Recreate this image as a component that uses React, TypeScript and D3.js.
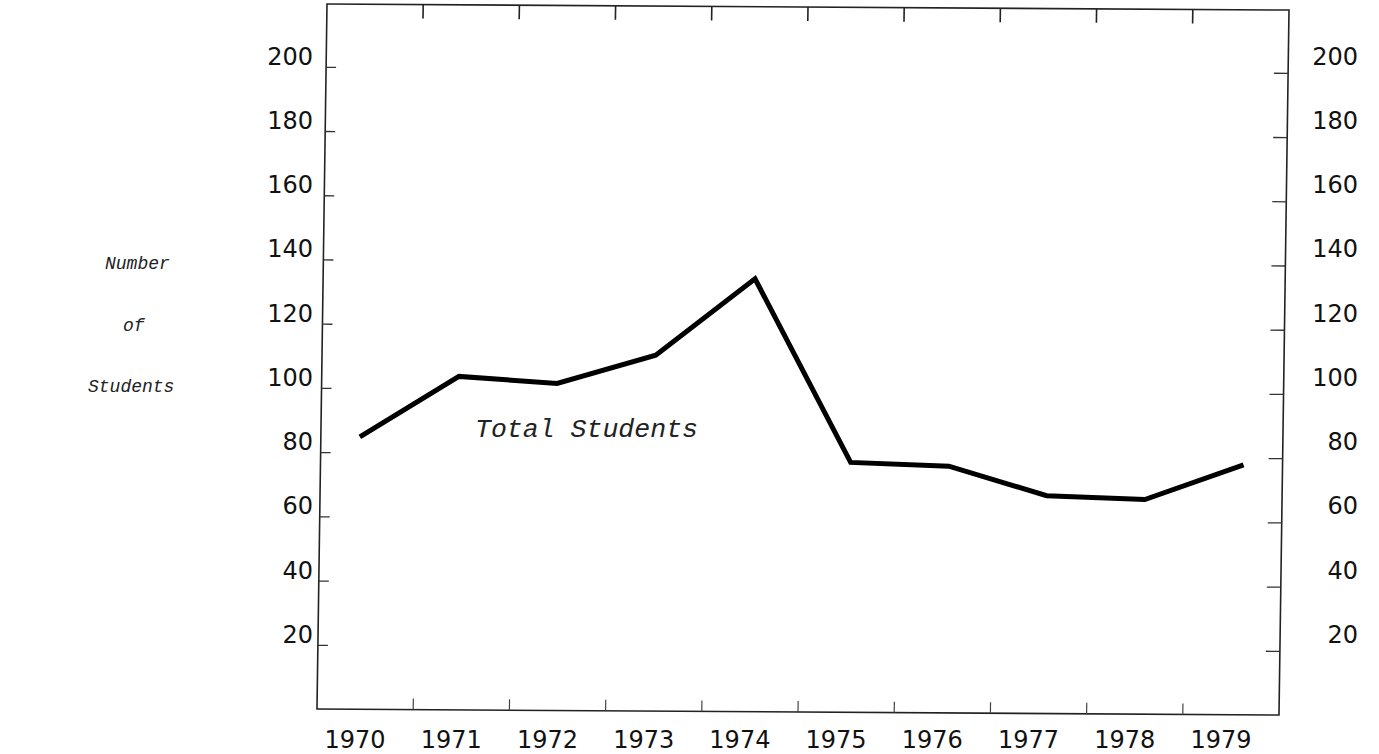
import React from "react";
import * as d3 from "d3";

const years = [1970, 1971, 1972, 1973, 1974, 1975, 1976, 1977, 1978, 1979];
const totalStudents = [85, 104, 102, 111, 135, 78, 77, 68, 67, 78];
const yTicks = [20, 40, 60, 80, 100, 120, 140, 160, 180, 200];
const yearLabels = ["1970", "1971", "1972", "1973", "1974", "1975", "1976", "1977", "1978", "1979"];
const seriesLabel = "Total Students";
const axisTitle = ["Number", "of", "Students"];

const W = 1379;
const H = 754;
// ideal (unskewed) frame
const F = { left: 327, right: 1289, top: 4, bottom: 709 };
const skew = `translate(${F.left},${F.top}) matrix(1,0.0063,-0.0142,1,0,0) translate(${-F.left},${-F.top})`;

const yScale = d3.scaleLinear().domain([0, 200]).range([709.5, 67.3]);
const xData = d3.scaleLinear().domain([1970, 1979]).range([366, 1250]);
const xDiv = d3.scaleLinear().domain([0, 10]).range([F.left, F.right]);
const xLabel = d3.scalePoint<string>().domain(yearLabels).range([355, 1221]);
// typed labels (not skewed)
const yLabel = d3.scaleLinear().domain([20, 200]).range([634, 56]);

const line = d3
  .line<number>()
  .x((_, i) => xData(years[i]))
  .y((d) => yScale(d));

const numFont = "'DejaVu Sans', sans-serif";
const monoItalic = "'Liberation Mono', 'DejaVu Sans Mono', monospace";
const ink = "#111";

export default function App() {
  const divs = d3.range(1, 10);
  return (
    <svg
      width={W}
      height={H}
      viewBox={`0 0 ${W} ${H}`}
      style={{ position: "absolute", left: 0, top: 0, display: "block", background: "#fff" }}
    >
      <rect x={0} y={0} width={W} height={H} fill="#fff" />
      <g transform={skew}>
        <rect
          x={F.left}
          y={F.top}
          width={F.right - F.left}
          height={F.bottom - F.top}
          fill="none"
          stroke="#222"
          strokeWidth={1.6}
        />
        {divs.map((k) => (
          <g key={"xt" + k}>
            <line x1={xDiv(k)} x2={xDiv(k)} y1={F.top} y2={F.top + 14} stroke="#222" strokeWidth={1.6} />
            <line x1={xDiv(k)} x2={xDiv(k)} y1={F.bottom} y2={F.bottom - 11} stroke="#444" strokeWidth={1.2} />
          </g>
        ))}
        {yTicks.map((v) => (
          <g key={"yt" + v}>
            <line x1={F.left} x2={F.left + 10} y1={yScale(v)} y2={yScale(v)} stroke="#333" strokeWidth={1.3} />
            <line x1={F.right} x2={F.right - 14} y1={yScale(v)} y2={yScale(v)} stroke="#333" strokeWidth={1.3} />
          </g>
        ))}
        <path
          d={line(totalStudents) || ""}
          fill="none"
          stroke="#000"
          strokeWidth={5}
          strokeLinejoin="miter"
          strokeLinecap="butt"
        />
      </g>

      {yTicks.map((v) => (
        <g key={"yl" + v} fontFamily={numFont} fontSize={24} fill={ink}>
          <text x={313} y={yLabel(v) + 8.8} textAnchor="end">
            {v}
          </text>
          <text x={1358} y={yLabel(v) + 8.8} textAnchor="end">
            {v}
          </text>
        </g>
      ))}
      {yearLabels.map((y) => (
        <text
          key={"xl" + y}
          x={xLabel(y)}
          y={748}
          textAnchor="middle"
          fontFamily={numFont}
          fontSize={24}
          fill={ink}
        >
          {y}
        </text>
      ))}

      <text
        x={475}
        y={437}
        fontFamily={monoItalic}
        fontStyle="italic"
        fontSize={26}
        fill="#222"
        textLength={223}
        lengthAdjust="spacingAndGlyphs"
      >
        {seriesLabel}
      </text>

      <g fontFamily={monoItalic} fontStyle="italic" fontSize={18} fill="#222">
        <text x={105} y={269}>
          {axisTitle[0]}
        </text>
        <text x={123} y={331}>
          {axisTitle[1]}
        </text>
        <text x={88} y={392}>
          {axisTitle[2]}
        </text>
      </g>
    </svg>
  );
}
